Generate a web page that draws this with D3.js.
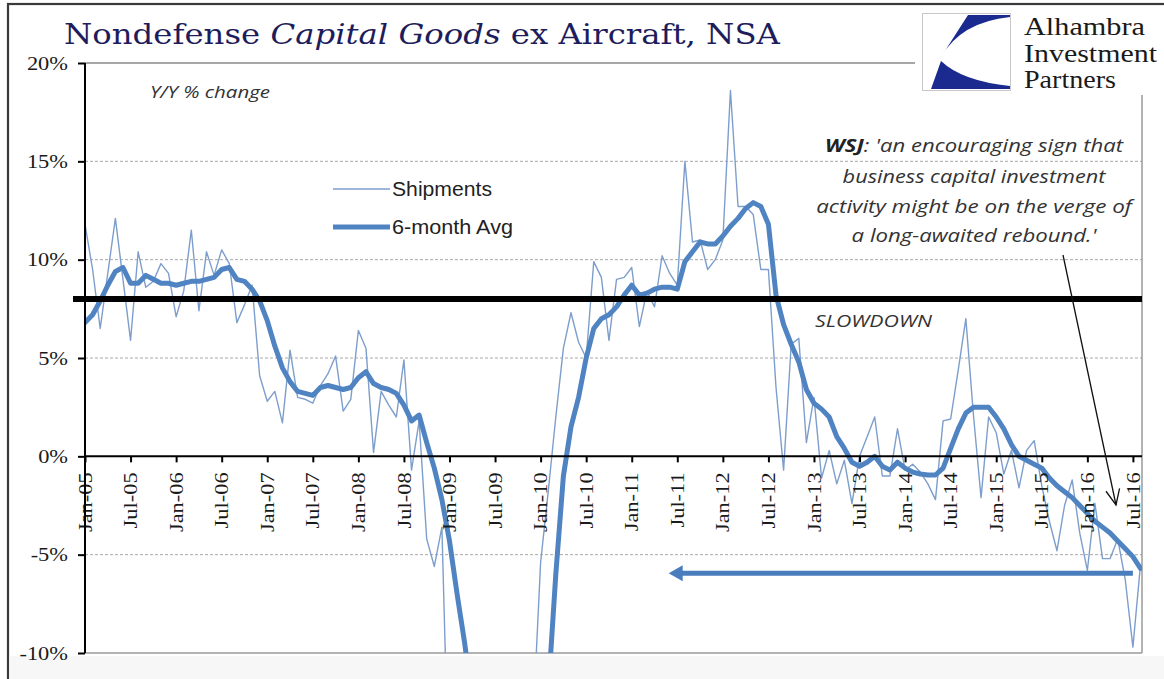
<!DOCTYPE html>
<html>
<head>
<meta charset="utf-8">
<script src="https://cdn.jsdelivr.net/npm/d3@7"></script>
<style>
  html, body { margin: 0; padding: 0; background: #fff; }
  svg { display: block; }
</style>
</head>
<body>
<svg id="chart" width="1164" height="679"></svg>
<script>
// Monthly series, one value per month starting Jan-05 (Y/Y % change)
const tickLabels = ["Jan-05","Jul-05","Jan-06","Jul-06","Jan-07","Jul-07","Jan-08","Jul-08",
  "Jan-09","Jul-09","Jan-10","Jul-10","Jan-11","Jul-11","Jan-12","Jul-12",
  "Jan-13","Jul-13","Jan-14","Jul-14","Jan-15","Jul-15","Jan-16","Jul-16"];

const shipments = [
  11.8, 9.5, 6.5, 9.3, 12.1, 9.0, 5.9, 10.4, 8.6, 8.9,
  9.8, 9.3, 7.1, 8.4, 11.5, 7.4, 10.4, 9.2, 10.5, 9.8,
  6.8, 7.7, 8.7, 4.1, 2.8, 3.3, 1.7, 5.4, 3.0, 2.9,
  2.7, 3.6, 4.2, 5.1, 2.3, 2.9, 6.4, 5.5, 0.2, 3.3,
  2.6, 2.0, 4.9, -0.7, 1.8, -4.2, -5.6, -3.6, -18.0, -22.0,
  -25.0, -26.0, -27.0, -27.0, -25.0, -24.0, -22.0, -20.0, -18.0, -13.5,
  -5.4, -1.8, 2.0, 5.5, 7.3, 5.8, 5.0, 9.9, 9.1, 5.9,
  9.0, 9.1, 9.6, 6.6, 8.4, 7.6, 10.2, 9.3, 8.7, 15.0,
  10.9, 11.0, 9.5, 10.0, 11.0, 18.6, 12.7, 12.7, 12.3, 9.5,
  9.5, 3.5, -0.7, 5.7, 6.0, 0.7, 3.0, -1.1, 0.3, -1.4,
  -0.2, -2.4, 0.0, 1.0, 2.0, -1.0, -1.0, 1.4, -0.7, -0.4,
  -0.8, -1.4, -2.2, 1.8, 1.9, 4.4, 7.0, 2.1, -2.1, 2.0,
  1.2, -0.9, 0.3, -1.6, 0.3, 0.8, -1.5, -3.3, -4.8, -2.5,
  -1.2, -3.9, -5.8, -2.4, -5.2, -5.2, -4.2, -6.3, -9.7, -5.5
];

const avg6 = [
  6.8, 7.2, 7.9, 8.7, 9.4, 9.6, 8.8, 8.8, 9.2, 9.0,
  8.8, 8.8, 8.7, 8.8, 8.9, 8.9, 9.0, 9.1, 9.5, 9.6,
  9.0, 8.9, 8.5, 7.9, 6.9, 5.6, 4.5, 3.8, 3.3, 3.2,
  3.1, 3.5, 3.6, 3.5, 3.4, 3.5, 4.0, 4.3, 3.7, 3.5,
  3.4, 3.2, 2.6, 1.8, 2.1, 0.7, -0.6, -2.2, -4.3, -7.0,
  -9.5, -12.5, -15.0, -17.0, -18.5, -19.5, -20.0, -20.0, -19.0, -17.5,
  -15.0, -12.0, -6.0, -1.0, 1.5, 3.0, 5.0, 6.5, 7.0, 7.2,
  7.6, 8.2, 8.7, 8.2, 8.3, 8.5, 8.6, 8.6, 8.5, 9.9,
  10.4, 10.9, 10.8, 10.8, 11.2, 11.7, 12.1, 12.6, 12.9, 12.7,
  11.8, 8.2, 6.7, 5.7, 4.8, 3.4, 2.7, 2.4, 2.0, 1.0,
  0.4, -0.3, -0.5, -0.3, 0.0, -0.5, -0.7, -0.3, -0.6, -0.8,
  -0.9, -0.95, -0.95, -0.6, 0.4, 1.4, 2.2, 2.5, 2.5, 2.5,
  2.0, 1.4, 0.6, 0.0, -0.2, -0.4, -0.6, -1.1, -1.5, -1.8,
  -2.1, -2.5, -2.9, -3.3, -3.6, -3.9, -4.3, -4.7, -5.1, -5.7
];

const yTicks = [-10, -5, 0, 5, 10, 15, 20];
const dashedLevels = [-5, 5, 10, 15];
const slowdownLevel = 8;
// blue arrow: current level carried back in time (month indices)
const arrowLevel = -5.95, arrowFromMonth = 138, arrowToMonth = 77;

const titleParts = [
  { text: "Nondefense ", italic: false },
  { text: "Capital Goods", italic: true },
  { text: " ex Aircraft, NSA", italic: false }
];
const logoLines = ["Alhambra", "Investment", "Partners"];
const legendItems = ["Shipments", "6-month Avg"];
const quoteLines = [
  "business capital investment",
  "activity might be on the verge of",
  "a long-awaited rebound.'"
];

// ---------------------------------------------------------------
const svg = d3.select("#chart");
const plot = { left: 85, right: 1142, top: 63, bottom: 653 };

const x = d3.scaleLinear().domain([0, shipments.length - 1]).range([85, 1140.5]);
const y = d3.scaleLinear().domain([-10, 20]).range([plot.bottom, plot.top]);

const serif = "'Liberation Serif', 'Times New Roman', serif";
const sans = "'Liberation Sans', Arial, sans-serif";
const calib = "'Open Sans', 'Liberation Sans', sans-serif";

function fitWidth(node, target) {
  node.setAttribute("textLength", target);
  node.setAttribute("lengthAdjust", "spacingAndGlyphs");
}
function stretch(node, k) {
  const w = node.getComputedTextLength();
  if (w > 0) fitWidth(node, w * k);
}

// outer frame
svg.append("rect").attr("x", 8).attr("y", 4).attr("width", 1175).attr("height", 700)
  .attr("fill", "#fff").attr("stroke", "#3a3a3a").attr("stroke-width", 2.2);
svg.append("rect").attr("x", 9.5).attr("y", 656).attr("width", 1160).attr("height", 30)
  .attr("fill", "#f7f7f7");

// title
const titleG = svg.append("g");
const title = titleG.append("text")
  .attr("font-family", "'DejaVu Serif', serif").attr("font-size", 28)
  .attr("fill", "#1e1d5c");
titleParts.forEach(p => title.append("tspan").attr("font-style", p.italic ? "italic" : "normal").text(p.text));
{
  const w = title.node().getComputedTextLength();
  titleG.attr("transform", `translate(64,44) scale(${716 / w},1)`);
}

// logo
const logo = svg.append("g");
logo.append("rect").attr("x", 922.5).attr("y", 13.5).attr("width", 88).attr("height", 77)
  .attr("fill", "#fff").attr("stroke", "#c9c9c9").attr("stroke-width", 1);
logo.append("path").attr("d", "M968,15 L1010,15 L1010,17 Q961,22 941,57 Z").attr("fill", "#1b2a8e");
logo.append("path").attr("d", "M941,61 Q962,81 1010,86 L1010,89 L931,89 Z").attr("fill", "#1b2a8e");
logoLines.forEach((t, i) => {
  const lt = logo.append("text").attr("x", 1024).attr("y", [35, 62, 88][i])
    .attr("font-family", serif).attr("font-size", 25).attr("fill", "#1a1a1a").text(t);
  fitWidth(lt.node(), [121, 133, 92][i]);
});

// gridlines and borders
const grid = svg.append("g");
grid.selectAll("line.dash").data(dashedLevels).join("line")
  .attr("x1", plot.left).attr("x2", plot.right)
  .attr("y1", d => y(d)).attr("y2", d => y(d))
  .attr("stroke", "#a8a8a8").attr("stroke-width", 1).attr("stroke-dasharray", "3,2");
grid.append("line").attr("x1", plot.left).attr("x2", 915).attr("y1", y(20)).attr("y2", y(20))
  .attr("stroke", "#8a8a8a").attr("stroke-width", 1.5);
grid.append("line").attr("x1", plot.left).attr("x2", plot.right).attr("y1", y(-10)).attr("y2", y(-10))
  .attr("stroke", "#9a9a9a").attr("stroke-width", 1.5);
grid.append("line").attr("x1", plot.right).attr("x2", plot.right).attr("y1", 95).attr("y2", y(-10))
  .attr("stroke", "#9a9a9a").attr("stroke-width", 1.5);

// series
svg.append("clipPath").attr("id", "plotClip").append("rect")
  .attr("x", plot.left).attr("y", plot.top)
  .attr("width", plot.right - plot.left).attr("height", plot.bottom - plot.top);

const line = d3.line().x((d, i) => x(i)).y(d => y(d));
const series = svg.append("g").attr("clip-path", "url(#plotClip)");
series.append("path").datum(shipments).attr("d", line)
  .attr("fill", "none").attr("stroke", "#7d9ecc").attr("stroke-width", 1.4)
  .attr("stroke-linejoin", "round");
series.append("path").datum(avg6).attr("d", line)
  .attr("fill", "none").attr("stroke", "#5083c2").attr("stroke-width", 5)
  .attr("stroke-linejoin", "round").attr("stroke-linecap", "round");

// x axis along zero
const xAxis = d3.axisBottom(x)
  .tickValues(d3.range(0, shipments.length, 6))
  .tickFormat(d => tickLabels[d / 6])
  .tickSize(6).tickSizeOuter(0);
const gx = svg.append("g").attr("transform", `translate(0,${y(0)})`).call(xAxis);
gx.select(".domain").remove();
gx.selectAll(".tick line").attr("stroke", "#000").attr("stroke-width", 2);
gx.selectAll(".tick text")
  .attr("transform", "rotate(-90)")
  .attr("text-anchor", "end").attr("x", -16).attr("y", 0).attr("dy", "0.32em")
  .attr("font-family", serif).attr("font-size", 19).attr("fill", "#1a1a1a")
  .each(function () { stretch(this, 1.18); });
svg.append("line").attr("x1", plot.left).attr("x2", plot.right).attr("y1", y(0)).attr("y2", y(0))
  .attr("stroke", "#000").attr("stroke-width", 2);

// y axis
const yAxis = d3.axisLeft(y).tickValues(yTicks).tickFormat(d => d + "%")
  .tickSize(7).tickPadding(10).tickSizeOuter(0);
const gy = svg.append("g").attr("transform", `translate(${plot.left},0)`).call(yAxis);
gy.select(".domain").remove();
gy.selectAll(".tick line").attr("stroke", "#000").attr("stroke-width", 2);
gy.selectAll(".tick text").attr("font-family", serif).attr("font-size", 19).attr("fill", "#1a1a1a")
  .each(function () { stretch(this, 1.18); });
svg.append("line").attr("x1", plot.left).attr("x2", plot.left).attr("y1", plot.top).attr("y2", plot.bottom)
  .attr("stroke", "#000").attr("stroke-width", 2);

// slowdown threshold
svg.append("line").attr("x1", 73).attr("x2", plot.right)
  .attr("y1", y(slowdownLevel)).attr("y2", y(slowdownLevel))
  .attr("stroke", "#000").attr("stroke-width", 6);

// blue arrow pointing back in time
{
  const ay = y(arrowLevel), tip = x(arrowToMonth) - 1;
  svg.append("line").attr("x1", x(arrowFromMonth)).attr("x2", tip + 10)
    .attr("y1", ay).attr("y2", ay).attr("stroke", "#4a7dbd").attr("stroke-width", 5);
  svg.append("path").attr("d", `M${tip},${ay} L${tip + 14},${ay - 8} L${tip + 14},${ay + 8} Z`)
    .attr("fill", "#4a7dbd");
}

// labels
const yy = svg.append("text").attr("x", 150).attr("y", 98)
  .attr("font-family", calib).attr("font-style", "italic").attr("font-size", 16)
  .attr("fill", "#333").text("Y/Y % change");
fitWidth(yy.node(), 120);

const slow = svg.append("text").attr("x", 815).attr("y", 327)
  .attr("font-family", calib).attr("font-style", "italic").attr("font-size", 17)
  .attr("fill", "#333").text("SLOWDOWN");
fitWidth(slow.node(), 117);

// legend
const legend = svg.append("g");
legend.append("line").attr("x1", 333).attr("x2", 390).attr("y1", 189).attr("y2", 189)
  .attr("stroke", "#7d9ecc").attr("stroke-width", 1.4);
legend.append("line").attr("x1", 333).attr("x2", 390).attr("y1", 227).attr("y2", 227)
  .attr("stroke", "#5083c2").attr("stroke-width", 5);
legendItems.forEach((t, i) => {
  const tx = legend.append("text").attr("x", 392).attr("y", [189, 227][i]).attr("dy", "0.36em")
    .attr("font-family", sans).attr("font-size", 19.5).attr("fill", "#222").text(t);
  fitWidth(tx.node(), [100, 121][i]);
});

// WSJ quote
const quote = svg.append("g").attr("font-family", calib).attr("font-style", "italic")
  .attr("font-size", 17.5).attr("fill", "#333").attr("text-anchor", "middle");
function quoteLine(baseline, target, build) {
  const g = quote.append("g");
  const t = g.append("text");
  build(t);
  const w = t.node().getComputedTextLength();
  g.attr("transform", `translate(974,${baseline}) scale(${target / w},1)`);
}
quoteLine(151.5, 298, t => {
  t.append("tspan").attr("font-weight", 700).attr("fill", "#222").text("WSJ");
  t.append("tspan").text(": 'an encouraging sign that");
});
[[183, 263], [213, 316], [241.5, 245]].forEach(([b, w], i) => {
  quoteLine(b, w, t => t.text(quoteLines[i]));
});

// pointer from quote to the latest readings
{
  const x0 = 1063, y0 = 255, x1 = 1116, y1 = 505;
  svg.append("line").attr("x1", x0).attr("y1", y0).attr("x2", x1).attr("y2", y1)
    .attr("stroke", "#111").attr("stroke-width", 1.3);
  const ang = Math.atan2(y1 - y0, x1 - x0), L = 17, spread = 0.42;
  const p1 = [x1 - L * Math.cos(ang - spread), y1 - L * Math.sin(ang - spread)];
  const p2 = [x1 - L * Math.cos(ang + spread), y1 - L * Math.sin(ang + spread)];
  svg.append("path").attr("d", `M${p1[0]},${p1[1]} L${x1},${y1} L${p2[0]},${p2[1]}`)
    .attr("fill", "none").attr("stroke", "#111").attr("stroke-width", 1.3);
}
</script>
</body>
</html>
